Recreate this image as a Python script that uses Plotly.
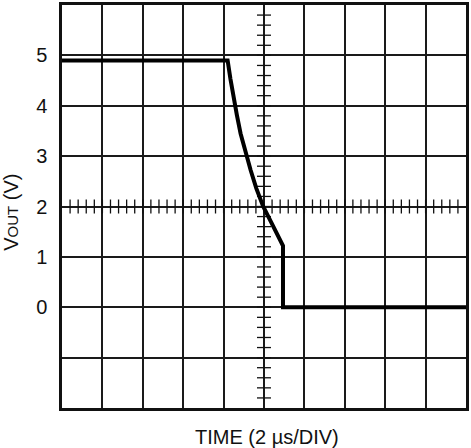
import numpy as np
import plotly.graph_objects as go

# Data (time in divisions of 2 µs, VOUT in volts)
time_div = [0, 4.10, 4.17, 4.24, 4.33, 4.42, 4.54, 4.67, 4.81, 4.98, 5.17, 5.36, 5.43, 5.47, 5.47, 10]
vout = [4.90, 4.90, 4.53, 4.17, 3.81, 3.45, 3.09, 2.72, 2.36, 2.00, 1.70, 1.41, 1.30, 1.22, 0.0, 0.0]

y_tickvals = [-1, 0, 1, 2, 3, 4, 5]
y_ticktext = ["", "0", "1", "2", "3", "4", "5"]

x_range = [0, 10]
y_range = [-2, 6]
center_x = 5
center_y = 2
minor_step_x = 0.2
minor_step_y = 0.2

fig = go.Figure()

# Minor ticks on the central horizontal axis
mx = np.arange(x_range[0] + minor_step_x, x_range[1], minor_step_x)
fig.add_trace(go.Scatter(
    x=mx, y=[center_y] * len(mx), mode="markers",
    marker=dict(symbol="line-ns", size=10, line=dict(width=1.3, color="#111")),
    hoverinfo="skip", showlegend=False))

# Minor ticks on the central vertical axis
my = np.arange(y_range[0] + minor_step_y, y_range[1], minor_step_y)
fig.add_trace(go.Scatter(
    x=[center_x] * len(my), y=my, mode="markers",
    marker=dict(symbol="line-ew", size=10, line=dict(width=1.3, color="#111")),
    hoverinfo="skip", showlegend=False))

# Waveform
fig.add_trace(go.Scatter(
    x=time_div, y=vout, mode="lines",
    line=dict(color="black", width=4, shape="linear"),
    hoverinfo="skip", showlegend=False))

fig.update_layout(
    width=471, height=448,
    margin=dict(l=62, r=2, t=2, b=40),
    paper_bgcolor="white", plot_bgcolor="white",
    font=dict(family="Liberation Sans, Arial, sans-serif", size=20, color="#111"),
    xaxis=dict(range=x_range, dtick=1, tick0=0, showgrid=True, gridcolor="#1a1a1a",
               gridwidth=1.5, showticklabels=False, ticks="", zeroline=False,
               showline=True, linecolor="#111", linewidth=2.5, mirror=True, fixedrange=True),
    yaxis=dict(range=y_range, tickmode="array", tickvals=y_tickvals, ticktext=y_ticktext,
               showgrid=True, gridcolor="#1a1a1a", gridwidth=1.5, ticks="",
               ticklabelstandoff=8, zeroline=False,
               showline=True, linecolor="#111", linewidth=2.5, mirror=True, fixedrange=True),
    annotations=[
        dict(text="TIME (2 µs/DIV)", xref="paper", yref="paper", x=0.507, y=-0.072,
             xanchor="center", yanchor="middle", showarrow=False,
             font=dict(size=20, color="#111")),
        dict(text="V<span style='font-size:15px'>OUT</span> (V)", xref="paper", yref="paper",
             x=-0.128, y=0.485, xanchor="center", yanchor="middle", textangle=-90,
             showarrow=False, font=dict(size=20, color="#111")),
    ],
)

fig.write_html(
    "out.html",
    config={"displayModeBar": False},
    post_script="document.body.style.margin='0';document.body.style.overflow='hidden';",
)
